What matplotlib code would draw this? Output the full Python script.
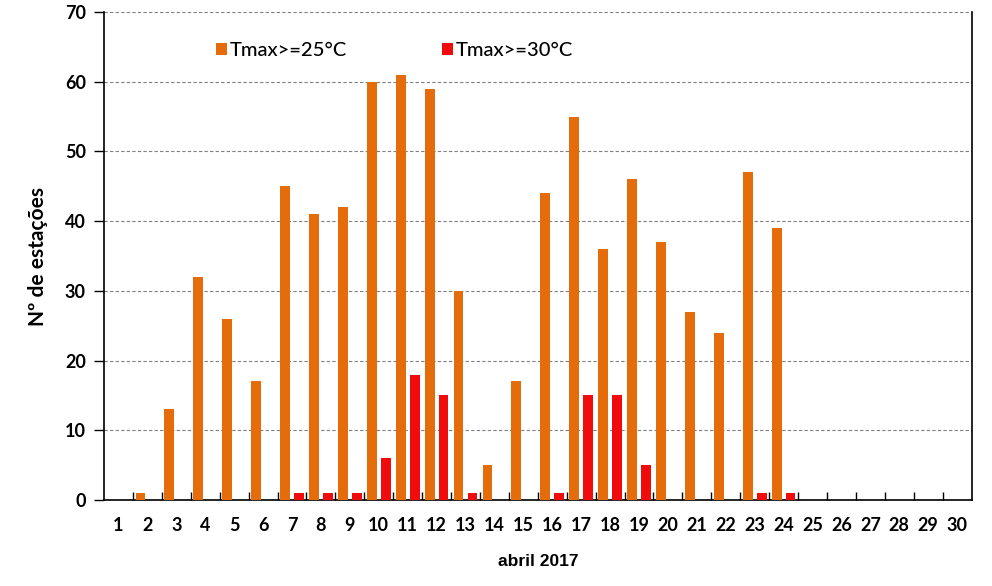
import matplotlib
matplotlib.use("Agg")
import matplotlib.pyplot as plt
import numpy as np
from matplotlib.patches import Patch

days = list(range(1, 31))
tmax25 = [0, 1, 13, 32, 26, 17, 45, 41, 42, 60, 61, 59, 30, 5, 17, 44, 55, 36, 46, 37, 27, 24, 47, 39, 0, 0, 0, 0, 0, 0]
tmax30 = [0, 0, 0, 0, 0, 0, 1, 1, 1, 6, 18, 15, 1, 0, 0, 1, 15, 15, 5, 0, 0, 0, 1, 1, 0, 0, 0, 0, 0, 0]
series_labels = ["Tmax>=25°C", "Tmax>=30°C"]
colors = ["#E46C0A", "#F00C0C"]

font = "Lato"
fig = plt.figure(figsize=(9.92, 5.86), dpi=100)
ax = fig.add_axes([104/992, 1 - 500/586, (971.6-104)/992, (500-12)/586])

x = np.arange(len(days))
w = 0.34
ax.bar(x - 0.24, tmax25, width=w, color=colors[0], zorder=3)
ax.bar(x + 0.24, tmax30, width=w, color=colors[1], zorder=3)

ax.set_xlim(-0.5, len(days) - 0.5)
ax.set_ylim(0, 70)
ax.set_yticks(range(0, 71, 10))
ax.yaxis.grid(True, linestyle=(0, (3, 2)), color="#808080", linewidth=0.8, zorder=0)
ax.set_axisbelow(True)

# category tick labels at centers, tick marks between categories
ax.set_xticks(x)
ax.set_xticklabels([str(d) for d in days], fontfamily=font, fontsize=13, fontweight="bold")
ax.tick_params(axis="x", which="major", length=0, pad=12)
ax.set_xticks(np.arange(0.5, len(days) - 1, 1.0), minor=True)
ax.tick_params(axis="x", which="minor", direction="in", length=6, width=1, color="black")
ax.tick_params(axis="y", direction="out", length=7, width=1, pad=6)
for lab in ax.get_yticklabels():
    lab.set_fontfamily(font)
    lab.set_fontsize(13)
    lab.set_fontweight("bold")

ax.spines["top"].set_visible(False)
for s in ["left", "right", "bottom"]:
    ax.spines[s].set_linewidth(1.2)
    ax.spines[s].set_color("black")

ax.set_xlabel("abril 2017", fontfamily="Liberation Sans", fontsize=12.5, fontweight="bold", labelpad=15)
ax.set_ylabel("Nº de estações", fontfamily=font, fontsize=15, fontweight="bold", labelpad=12)

handles = [Patch(facecolor=c, edgecolor="none") for c in colors]
leg = ax.legend(handles, series_labels, loc="upper left", bbox_to_anchor=(0.129, 0.938), ncol=2,
                frameon=False, handlelength=0.55, handleheight=0.55, handletextpad=0.15,
                borderpad=0, borderaxespad=0,
                columnspacing=4.7, prop={"family": font, "size": 14.5, "weight": "medium"})

fig.savefig("out.png", dpi=100)
